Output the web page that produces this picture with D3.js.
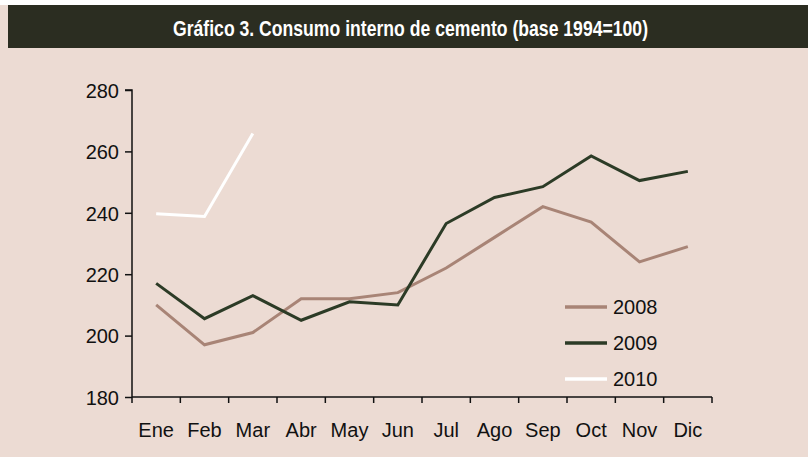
<!DOCTYPE html>
<html>
<head>
<meta charset="utf-8">
<script src="https://cdn.jsdelivr.net/npm/d3@7"></script>
<style>
  body { margin: 0; background: #fff; }
  text { font-family: "Liberation Sans", Arial, sans-serif; }
</style>
</head>
<body>
<svg id="chart"></svg>
<script>
var months = ["Ene", "Feb", "Mar", "Abr", "May", "Jun", "Jul", "Ago", "Sep", "Oct", "Nov", "Dic"]
var series2008 = [210, 197, 201, 212, 212, 214, 222, 232, 242, 237, 224, 229]
var series2009 = [217, 205.5, 213, 205, 211, 210, 236.5, 245, 248.5, 258.5, 250.5, 253.5]
var series2010 = [239.7, 238.8, 265.8]
var yTicks = [180, 200, 220, 240, 260, 280]
var title = "Gráfico 3. Consumo interno de cemento (base 1994=100)"

var dimensions = {
	width: 808,
	height: 457,
	margin: { top: 90, bottom: 60, right: 96, left: 132 }
}

var svg = d3.select("#chart")
	.attr("width", dimensions.width)
	.attr("height", dimensions.height)

// background
svg.append("rect")
	.attr("x", 0).attr("y", 0)
	.attr("width", dimensions.width).attr("height", dimensions.height)
	.attr("fill", "#ecdbd3")

svg.append("rect")
	.attr("x", 0).attr("y", 0)
	.attr("width", dimensions.width).attr("height", 5)
	.attr("fill", "#ffffff")

// title bar
svg.append("rect")
	.attr("x", 8).attr("y", 5)
	.attr("width", 800).attr("height", 43)
	.attr("fill", "#2b2d21")

svg.append("text")
	.attr("x", 173).attr("y", 35.5)
	.attr("text-anchor", "start")
	.attr("fill", "#ffffff")
	.attr("textLength", 475)
	.attr("lengthAdjust", "spacingAndGlyphs")
	.style("font-family", "'Liberation Sans Narrow', 'Liberation Sans', Arial, sans-serif")
	.style("font-weight", "bold")
	.style("font-size", "21.5px")
	.text(title)

var xScale = d3.scaleBand()
	.domain(months)
	.range([dimensions.margin.left, dimensions.width - dimensions.margin.right])
	.padding(0)

var yScale = d3.scaleLinear()
	.domain([180, 280])
	.range([dimensions.height - dimensions.margin.bottom, dimensions.margin.top])

var x0 = xScale.range()[0], x1 = xScale.range()[1]
var yBase = yScale(180)

// y axis
var yAxisgen = d3.axisLeft(yScale).tickValues(yTicks).tickSize(7).tickPadding(6)
var yAxis = svg.append("g")
	.attr("transform", "translate(" + x0 + ",0)")
	.call(yAxisgen)
yAxis.select(".domain").attr("stroke", "#111").attr("stroke-width", 1.5)
	.attr("d", "M-7," + yScale(280) + "H0V" + yBase)
yAxis.selectAll(".tick line").attr("stroke", "#111").attr("stroke-width", 1.5)
yAxis.selectAll(".tick text")
	.attr("fill", "#111")
	.style("font-size", "20px")
	.attr("dy", "0.36em")

// x axis: labels centred in bands, ticks on band edges
var xAxisgen = d3.axisBottom(xScale).tickSize(0).tickPadding(26)
var xAxis = svg.append("g")
	.attr("transform", "translate(0," + yBase + ")")
	.call(xAxisgen)
xAxis.select(".domain").remove()
xAxis.selectAll(".tick text")
	.attr("fill", "#111")
	.style("font-size", "20px")

svg.append("line")
	.attr("x1", x0).attr("x2", x1)
	.attr("y1", yBase).attr("y2", yBase)
	.attr("stroke", "#111").attr("stroke-width", 1.5)

var edges = months.map(d => xScale(d)).concat([x1])
svg.selectAll(".xtick")
	.data(edges)
	.enter()
	.append("line")
	.attr("class", "xtick")
	.attr("x1", d => d).attr("x2", d => d)
	.attr("y1", yBase).attr("y2", yBase + 6)
	.attr("stroke", "#111").attr("stroke-width", 1.5)

var line = d3.line()
	.x((d, i) => xScale(months[i]) + xScale.bandwidth() / 2)
	.y(d => yScale(d))

var lines = [
	{ name: "2008", values: series2008, color: "#a88476" },
	{ name: "2009", values: series2009, color: "#2c3b26" },
	{ name: "2010", values: series2010, color: "#ffffff" }
]

svg.selectAll(".serie")
	.data(lines)
	.enter()
	.append("path")
	.attr("class", "serie")
	.attr("d", d => line(d.values))
	.style("fill", "none")
	.style("stroke", d => d.color)
	.style("stroke-width", 3)
	.style("stroke-linejoin", "miter")

// legend
var legend = svg.append("g")
	.attr("transform", "translate(565, 307)")

legend.selectAll("line")
	.data(lines)
	.enter()
	.append("line")
	.attr("x1", 0).attr("x2", 42)
	.attr("y1", (d, i) => i * 36).attr("y2", (d, i) => i * 36)
	.attr("stroke", d => d.color)
	.attr("stroke-width", 3.5)

legend.selectAll("text")
	.data(lines)
	.enter()
	.append("text")
	.attr("x", 48)
	.attr("y", (d, i) => i * 36)
	.attr("dy", "0.36em")
	.attr("fill", "#111")
	.style("font-size", "20px")
	.text(d => d.name)
</script>
</body>
</html>
